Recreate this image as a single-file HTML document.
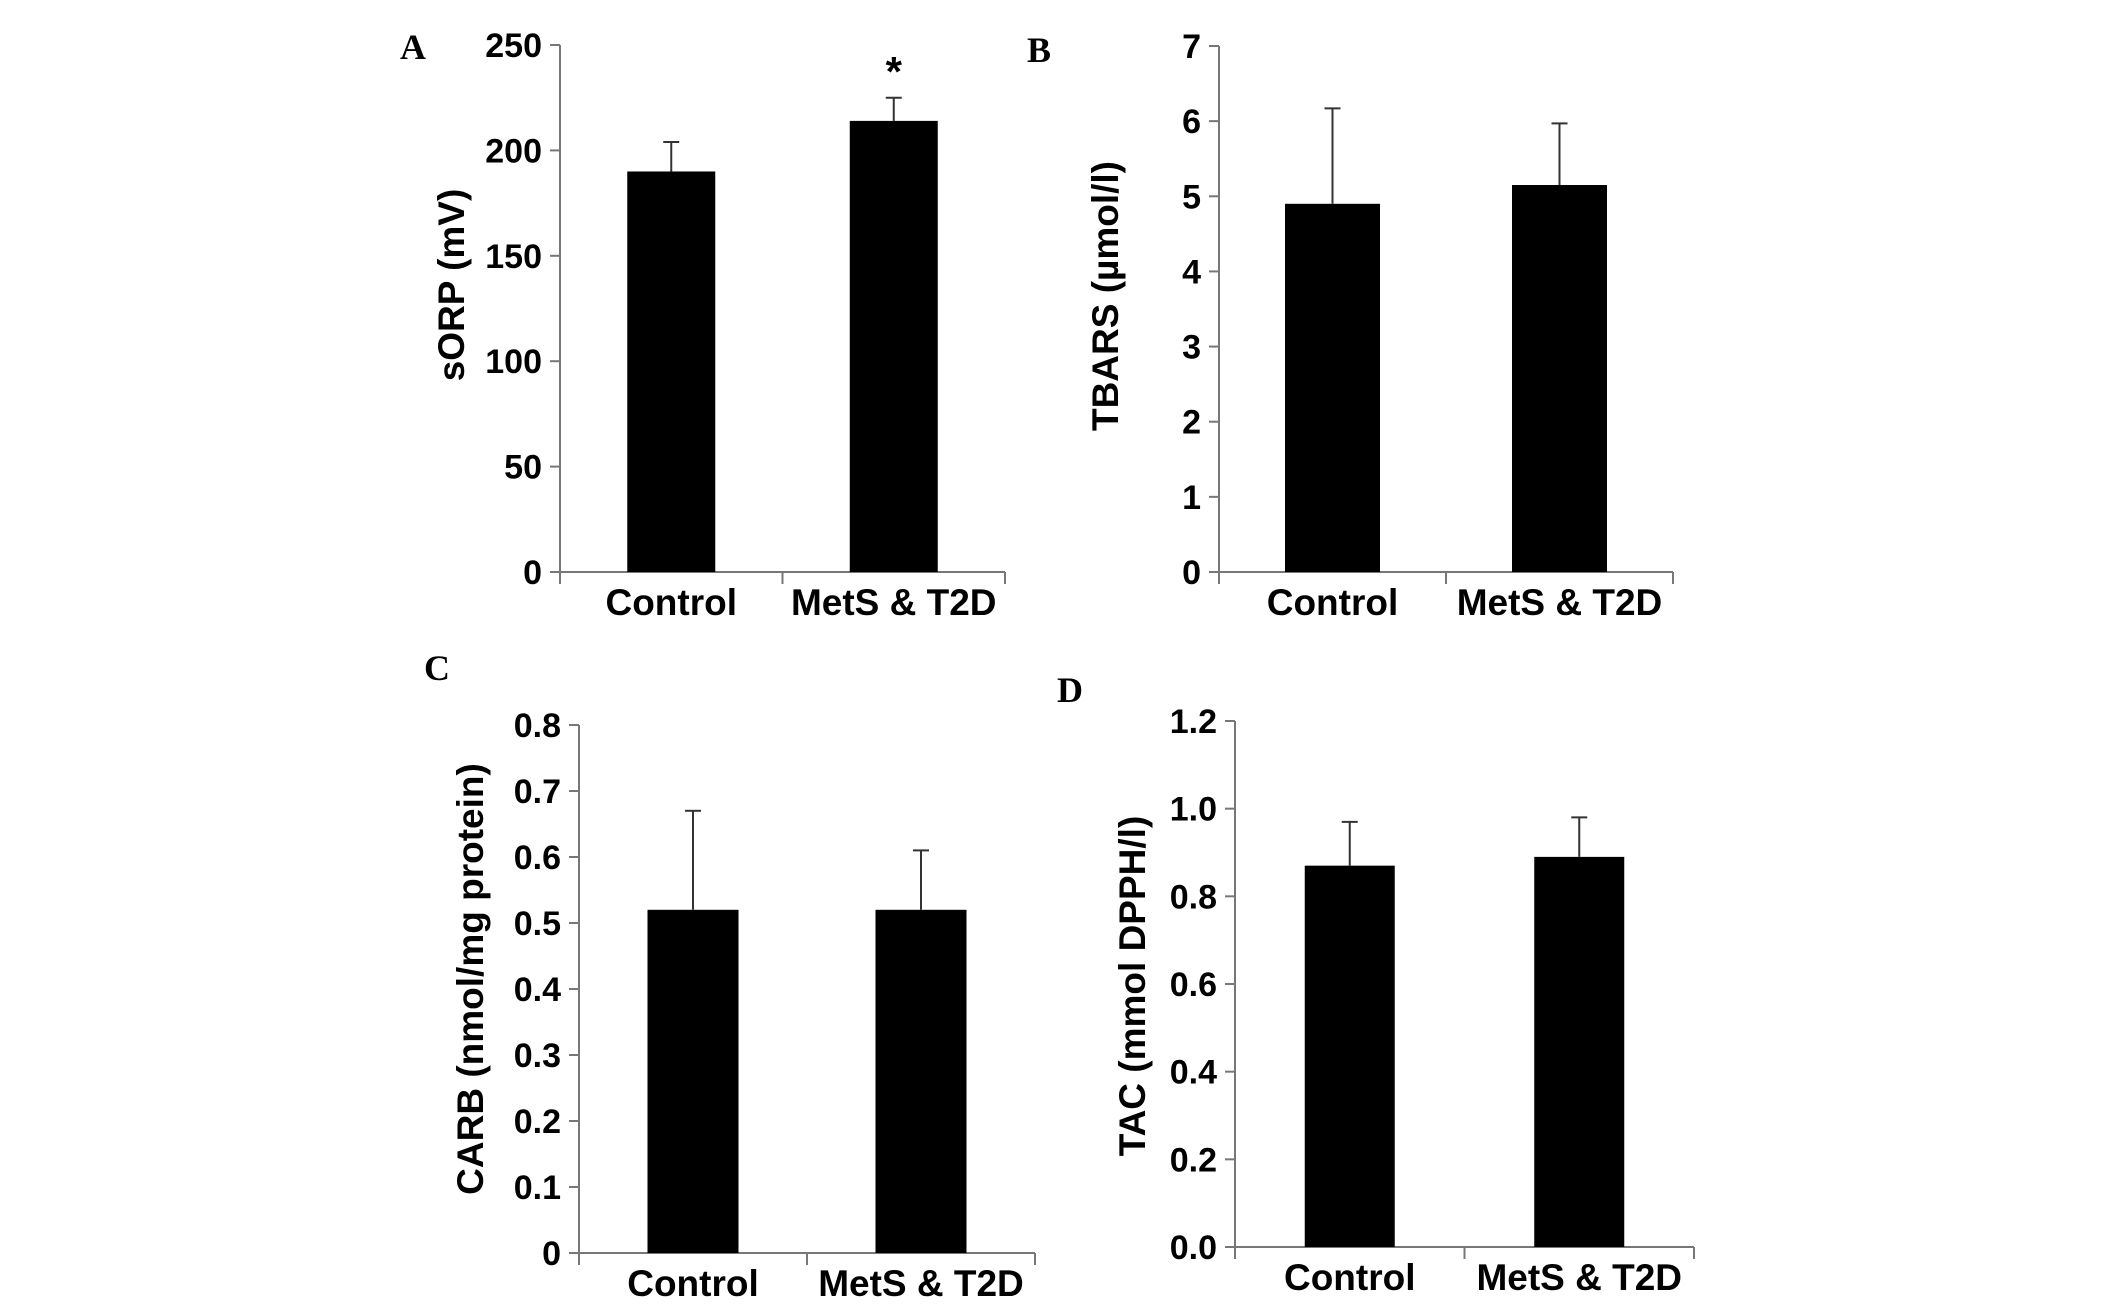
<!DOCTYPE html>
<html><head><meta charset="utf-8"><style>
html,body{margin:0;padding:0;background:#fff;}
svg{display:block;}
text{font-family:"Liberation Sans",Arial,sans-serif;font-weight:bold;fill:#000;}
.lbl{font-family:"Liberation Serif","Times New Roman",serif;font-size:36px;}
</style></head><body>
<svg id="fig" width="2126" height="1304" viewBox="0 0 2126 1304" xmlns="http://www.w3.org/2000/svg"></svg>
<script>
const categories = ["Control", "MetS & T2D"];
const valuesA = [190, 214];
const errorsA = [204, 225];
const ticksA = ["0","50","100","150","200","250"];
const valuesB = [4.9, 5.15];
const errorsB = [6.17, 5.97];
const ticksB = ["0","1","2","3","4","5","6","7"];
const valuesC = [0.52, 0.52];
const errorsC = [0.67, 0.61];
const ticksC = ["0","0.1","0.2","0.3","0.4","0.5","0.6","0.7","0.8"];
const valuesD = [0.87, 0.89];
const errorsD = [0.97, 0.98];
const ticksD = ["0.0","0.2","0.4","0.6","0.8","1.0","1.2"];

const NS = "http://www.w3.org/2000/svg";
const svg = document.getElementById('fig');
function mk(tag, attrs, parent, txt){
  const e = document.createElementNS(NS, tag);
  for (const k in attrs) e.setAttribute(k, attrs[k]);
  if (txt !== undefined) e.textContent = txt;
  parent.appendChild(e);
  return e;
}
function panel(p){
  const g = mk('g', {}, svg);
  
  
  const ticks = p.ticks;
  const vmax = parseFloat(ticks[ticks.length-1]);
  const y = v => p.y0 - (v / vmax) * (p.y0 - p.yTop);
  const bw = (p.x1 - p.x0) / categories.length;
  const xc = i => p.x0 + bw * (i + 0.5);
  const ax = mk('line', {x1:p.x0, y1:p.yTop, x2:p.x0, y2:p.y0 + 12, stroke:'#777', 'stroke-width':2}, g);
  
  
  const xa = mk('line', {x1:p.x0 - 10, y1:p.y0, x2:p.x1, y2:p.y0, stroke:'#777', 'stroke-width':2}, g);
  
  
  for (let i = 1; i <= categories.length; i++) {
    const xx = p.x0 + bw * i;
    const t = mk('line', {x1:xx, y1:p.y0, x2:xx, y2:p.y0 + 12, stroke:'#777', 'stroke-width':2}, g);
    
    
  }
  ticks.forEach(tl => {
    const v = parseFloat(tl);
    const tk = mk('line', {x1:p.x0 - 10, y1:y(v), x2:p.x0, y2:y(v), stroke:'#777', 'stroke-width':2}, g);
    
    
    const tx = mk('text', {x:p.x0 - 18, y:y(v) + 12, 'text-anchor':'end', 'font-size':34}, g, tl);
    
    
  });
  categories.forEach((c, i) => {
    const w = p.barW;
    const b = mk('rect', {x:xc(i) - w/2, y:y(p.values[i]), width:w, height:p.y0 - y(p.values[i]), fill:'#000'}, g);
    
    
    const e = mk('line', {x1:xc(i), y1:y(p.values[i]), x2:xc(i), y2:y(p.errors[i]), stroke:'#333', 'stroke-width':2}, g);
    
    
    const ec = mk('line', {x1:xc(i) - 8, y1:y(p.errors[i]), x2:xc(i) + 8, y2:y(p.errors[i]), stroke:'#333', 'stroke-width':2}, g);
    
    
    const ct = mk('text', {x:xc(i), y:p.y0 + 43, 'text-anchor':'middle', 'font-size':37}, g, c);
    
    
  });
  const ttl = mk('text', {x:0, y:0, 'text-anchor':'middle', 'font-size':37, transform:'translate(' + p.titleX + ',' + p.titleY + ') rotate(-90)'}, g, p.title);
  
  
  const L = mk('text', {x:p.lx, y:p.ly, class:'lbl'}, g, p.id);
  
  
  return {g, y, xc};
}
const A = panel({id:'A', x0:560, x1:1005, yTop:45, y0:572, barW:88, values:valuesA, errors:errorsA, ticks:ticksA, title:'sORP (mV)', titleX:464, titleY:285, lx:400, ly:59});
const star = mk('text', {x:A.xc(1), y:86, 'text-anchor':'middle', 'font-size':42}, A.g, '*');


panel({id:'B', x0:1219, x1:1673, yTop:46, y0:572, barW:95, values:valuesB, errors:errorsB, ticks:ticksB, title:'TBARS (µmol/l)', titleX:1118, titleY:296, lx:1027, ly:62});
panel({id:'C', x0:579, x1:1035, yTop:725, y0:1253, barW:91, values:valuesC, errors:errorsC, ticks:ticksC, title:'CARB (nmol/mg protein)', titleX:483, titleY:979, lx:424, ly:680});
panel({id:'D', x0:1235, x1:1694, yTop:721, y0:1247, barW:90, values:valuesD, errors:errorsD, ticks:ticksD, title:'TAC (mmol DPPH/l)', titleX:1145, titleY:986, lx:1057, ly:702});
</script>
</body></html>
